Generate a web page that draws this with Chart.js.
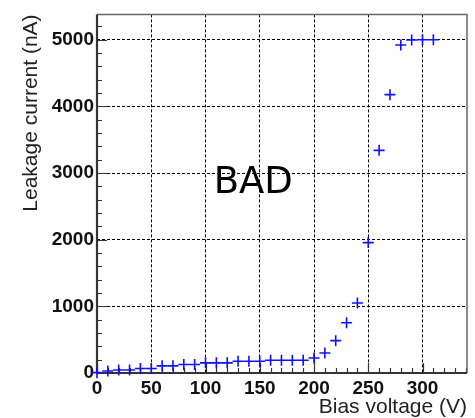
<!DOCTYPE html>
<html>
<head>
<meta charset="utf-8">
<script src="https://cdn.jsdelivr.net/npm/chart.js@4.4.1/dist/chart.umd.min.js"></script>
<style>
  html, body { margin: 0; padding: 0; background: #fff; }
  #wrap { width: 475px; height: 418px; }
</style>
</head>
<body>
<div id="wrap"><canvas id="ivChart"></canvas></div>
<script>
// bias scan, 10 V steps
const biasVoltage = [0, 10, 20, 30, 40, 50, 60, 70, 80, 90, 100, 110, 120, 130, 140, 150,
  160, 170, 180, 190, 200, 210, 220, 230, 240, 250, 260, 270, 280, 290, 300, 310];
const leakageCurrent = [5, 30, 45, 45, 68, 68, 107, 107, 127, 127, 152, 152, 152, 176, 176, 176,
  191, 191, 191, 191, 225, 299, 485, 755, 1050, 1956, 3340, 4176, 4921, 4995, 5000, 5000];
const xTickValues = [0, 50, 100, 150, 200, 250, 300];
const yTickValues = [0, 1000, 2000, 3000, 4000, 5000];
const xRange = [0, 341];
const yRange = [0, 5380];
const stampText = 'BAD';

const points = biasVoltage.map((v, i) => ({ x: v, y: leakageCurrent[i] }));

// frame, inward ticks (ROOT style) and the stamp
const framePlugin = {
  id: 'frame',
  beforeDatasetsDraw(chart) {
    const { ctx, chartArea: a, scales: { x, y } } = chart;
    ctx.save();
    // minor + major ticks
    ctx.strokeStyle = '#333';
    ctx.lineWidth = 1.2;
    ctx.beginPath();
    for (let v = 0; v <= yRange[1]; v += 200) {
      const py = Math.round(y.getPixelForValue(v)) + 0.5;
      const len = yTickValues.includes(v) ? 10 : 5;
      ctx.moveTo(a.left, py); ctx.lineTo(a.left + len, py);
    }
    for (let v = 0; v <= xRange[1]; v += 10) {
      const px = Math.round(x.getPixelForValue(v)) + 0.5;
      const len = xTickValues.includes(v) ? 10 : 5;
      ctx.moveTo(px, a.bottom); ctx.lineTo(px, a.bottom - len);
    }
    ctx.stroke();
    // light top/right border
    ctx.strokeStyle = '#666';
    ctx.lineWidth = 1.5;
    ctx.beginPath();
    ctx.moveTo(a.left, a.top); ctx.lineTo(a.right, a.top); ctx.lineTo(a.right, a.bottom);
    ctx.stroke();
    // heavy left/bottom axes
    ctx.strokeStyle = '#333';
    ctx.lineWidth = 2.2;
    ctx.beginPath();
    ctx.moveTo(a.left, a.top); ctx.lineTo(a.left, a.bottom); ctx.lineTo(a.right, a.bottom);
    ctx.stroke();
    // stamp
    ctx.fillStyle = '#000';
    ctx.font = '37px "DejaVu Sans", sans-serif';
    ctx.textAlign = 'center';
    ctx.textBaseline = 'middle';
    ctx.fillText(stampText, x.getPixelForValue(144), y.getPixelForValue(2850));
    ctx.restore();
  }
};

const tickFont = { family: 'Liberation Sans, Arial', size: 19, weight: 'bold' };
const titleFont = { family: 'Liberation Sans, Arial', size: 21 };

new Chart(document.getElementById('ivChart'), {
  type: 'scatter',
  data: {
    datasets: [{
      data: points,
      pointStyle: 'cross',
      pointRadius: 5.5,
      pointHoverRadius: 5.5,
      pointBorderWidth: 1.6,
      borderColor: '#1010ff',
      backgroundColor: '#1010ff',
      clip: false
    }]
  },
  options: {
    responsive: true,
    maintainAspectRatio: false,
    animation: false,
    layout: { padding: { top: 7, right: 8, left: 0, bottom: 0 } },
    plugins: { legend: { display: false }, tooltip: { enabled: false } },
    scales: {
      x: {
        type: 'linear',
        min: xRange[0], max: xRange[1],
        afterFit: s => { s.height = 45; },
        afterBuildTicks: s => { s.ticks = xTickValues.map(v => ({ value: v })); },
        border: { display: false, dash: [3, 2] },
        grid: { color: '#000', lineWidth: 1, drawTicks: false },
        ticks: { padding: 4, color: '#111', font: tickFont, callback: v => String(v) },
        title: {
          display: true, text: 'Bias voltage (V)', align: 'end', color: '#222',
          font: titleFont, padding: { top: 0, bottom: -2 }
        }
      },
      y: {
        type: 'linear',
        min: yRange[0], max: yRange[1],
        afterFit: s => { s.width = 97; },
        afterBuildTicks: s => { s.ticks = yTickValues.map(v => ({ value: v })); },
        border: { display: false, dash: [3, 2] },
        grid: { color: '#000', lineWidth: 1, drawTicks: false },
        ticks: { padding: 3, color: '#111', font: tickFont, callback: v => String(v) },
        title: {
          display: true, text: 'Leakage current (nA)', align: 'end', color: '#222',
          font: titleFont, padding: { top: 19, bottom: 0 }
        }
      }
    }
  },
  plugins: [framePlugin]
});
</script>
</body>
</html>
